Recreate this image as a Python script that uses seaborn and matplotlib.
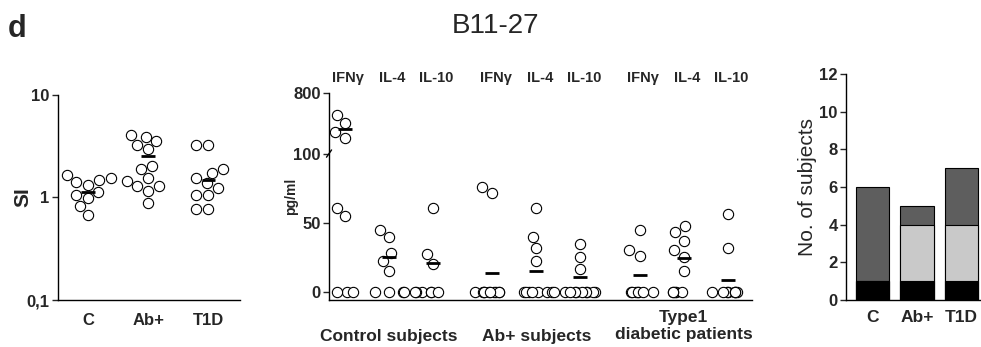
import numpy as np
import pandas as pd
import matplotlib
matplotlib.use("Agg")
import matplotlib.pyplot as plt
import seaborn as sns

sns.set_style("white")
plt.rcParams['font.family'] = ['Liberation Sans', 'DejaVu Sans']
np.random.seed(3)

# ---- panel 1: stimulation index ----
si_groups = ['C', 'Ab+', 'T1D']
si_c = [1.55, 1.66, 1.49, 1.33, 1.42, 1.14, 1.06, 0.99, 0.82, 0.68]
si_ab = [3.88, 4.09, 3.55, 3.26, 2.96, 2.04, 1.88, 1.54, 1.45, 1.28, 1.30, 1.16, 0.88]
si_t1d = [3.26, 3.26, 1.89, 1.75, 1.54, 1.38, 1.23, 1.06, 1.06, 0.78, 0.78]
si_lines = [1.14, 2.51, 1.49]

# ---- panel 2: cytokines (pg/ml) ----
cytokines = ['IFN\u03b3', 'IL-4', 'IL-10']
cohorts = ['Control subjects', 'Ab+ subjects', 'Type1\ndiabetic patients']
ctrl_ifn = [547, 452, 356, 280, 61, 55, 0, 0, 0]
ctrl_il4 = [45, 39.6, 28, 22, 14.7, 0, 0, 0, 0]
ctrl_il10 = [60.7, 27, 20, 0, 0, 0, 0, 0, 0]
ab_ifn = [76, 71.5, 0, 0, 0, 0, 0, 0, 0, 0, 0, 0]
ab_il4 = [60.5, 40, 32, 22, 0, 0, 0, 0, 0, 0, 0, 0]
ab_il10 = [34.5, 25, 16.6, 0, 0, 0, 0, 0, 0, 0, 0, 0]
t1d_ifn = [45, 30, 26, 0, 0, 0, 0, 0, 0, 0]
t1d_il4 = [48, 43, 37, 30, 25, 14.7, 0, 0, 0, 0, 0]
t1d_il10 = [56, 31.6, 0, 0, 0, 0, 0, 0, 0, 0]
cyt_lines = [383, 25, 21, 13.5, 15, 10.6, 12.3, 24.4, 8.7]

# ---- panel 3: number of subjects ----
bar_groups = ['C', 'Ab+', 'T1D']
n_black = [1, 1, 1]
n_light = [0, 3, 3]
n_dark = [5, 1, 3]

fig = plt.figure(figsize=(9.81, 3.47), dpi=100)
bold = dict(fontweight='bold')

# panel 1
ax1 = fig.add_axes([0.0591, 0.1354, 0.1855, 0.591])
ax1.set_yscale('log')
si_df = pd.DataFrame({
    'group': np.repeat(si_groups, [len(si_c), len(si_ab), len(si_t1d)]),
    'SI': si_c + si_ab + si_t1d})
sns.swarmplot(data=si_df, x='group', y='SI', order=si_groups, ax=ax1, size=7.4,
              color='white', edgecolor='black', linewidth=0.8)
ax1.hlines(si_lines, np.arange(3) - 0.11, np.arange(3) + 0.11, color='black', lw=2, zorder=5)
ax1.set_ylim(0.1, 10)
ax1.set_xlim(-0.5, 2.53)
ax1.set_yticks([0.1, 1, 10])
ax1.set_yticklabels(['0,1', '1', '10'])
ax1.yaxis.set_minor_locator(matplotlib.ticker.NullLocator())
ax1.set_xlabel('')
ax1.set_ylabel('SI', fontsize=15, **bold)
ax1.yaxis.set_label_coords(-0.143, 0.5)
ax1.tick_params(axis='y', left=True, length=4, width=1, labelsize=12, pad=2)
ax1.tick_params(axis='x', bottom=False, labelsize=12, pad=6)
for t in ax1.get_xticklabels() + ax1.get_yticklabels():
    t.set_fontweight('bold')
sns.despine(ax=ax1)

# panel 2, broken axis above 100
def fwd(y):
    y = np.asarray(y, dtype=float)
    return np.where(y <= 100, y, 100 + (y - 100) * 44 / 700)

def inv(y):
    y = np.asarray(y, dtype=float)
    return np.where(y <= 100, y, 100 + (y - 100) * 700 / 44)

ax2 = fig.add_axes([0.3354, 0.1354, 0.431, 0.5965])
ax2.set_yscale('function', functions=(fwd, inv))
ax2.set_ylim(-6, 800)
ax2.set_xlim(-0.36, 9.25)

series = [ctrl_ifn, ctrl_il4, ctrl_il10, ab_ifn, ab_il4, ab_il10, t1d_ifn, t1d_il4, t1d_il10]
pos = [c + g * 3.35 for g in range(3) for c in range(3)]
rows = []
for p, vals in zip(pos, series):
    for v in vals:
        rows.append((p, v))
cyt_df = pd.DataFrame(rows, columns=['pos', 'pg'])
pos_df = cyt_df[cyt_df.pg > 0]
zero_df = cyt_df[cyt_df.pg == 0]
sns.swarmplot(data=pos_df, x='pos', y='pg', native_scale=True, ax=ax2, size=7.4,
              color='white', edgecolor='black', linewidth=0.8)
sns.stripplot(data=zero_df, x='pos', y='pg', native_scale=True, ax=ax2, size=7.4,
              jitter=0.42, color='white', edgecolor='black', linewidth=0.8)
ax2.hlines(cyt_lines, np.array(pos) - 0.16, np.array(pos) + 0.16, color='black', lw=2, zorder=5)
ax2.set_xlim(-0.36, 9.25)
ax2.set_ylim(-6, 800)
ax2.set_yticks([0, 50, 100, 800])
ax2.set_xticks([])
ax2.set_xlabel('')
ax2.set_ylabel('pg/ml', fontsize=10, **bold)
ax2.yaxis.set_label_coords(-0.073, 0.5)
ax2.tick_params(axis='y', left=True, length=4, width=1, labelsize=12, pad=2)
for t in ax2.get_yticklabels():
    t.set_fontweight('bold')
sns.despine(ax=ax2)
# break mark on the y axis
ax2.plot([-0.006, 0.006], [0.69, 0.725], transform=ax2.transAxes, color='black', lw=1, clip_on=False)
for p, lab in zip(pos, cytokines * 3):
    ax2.text(p + 0.08, 1.072, lab, transform=ax2.get_xaxis_transform(), ha='center', va='center',
             fontsize=10.5, **bold)
for g, lab in enumerate(cohorts):
    ax2.text(1 + g * 3.35, -0.126 if '\n' in lab else -0.174, lab,
             transform=ax2.get_xaxis_transform(), ha='center', va='center',
             fontsize=12.5, **bold, linespacing=1.2)

# panel 3: stacked bars drawn from the top segment down
ax3 = fig.add_axes([0.8624, 0.1354, 0.1366, 0.651])
bar_df = pd.DataFrame({'group': bar_groups,
                       'black': n_black,
                       'light': np.add(n_black, n_light),
                       'dark': np.add(np.add(n_black, n_light), n_dark)})
for col, colour in [('dark', '#5e5e5e'), ('light', '#c9c9c9'), ('black', '#000000')]:
    sns.barplot(data=bar_df, x='group', y=col, order=bar_groups, ax=ax3, width=0.75,
                color=colour, saturation=1, edgecolor='black', linewidth=0.8)
ax3.set_ylim(0, 12)
ax3.set_xlim(-0.61, 2.43)
ax3.set_yticks(range(0, 13, 2))
ax3.set_xlabel('')
ax3.set_ylabel('No. of subjects', fontsize=15)
ax3.yaxis.set_label_coords(-0.216, 0.5)
ax3.tick_params(axis='y', left=True, length=4, width=1, labelsize=12, pad=2)
ax3.tick_params(axis='x', bottom=False, labelsize=12.5, pad=4)
for t in ax3.get_xticklabels() + ax3.get_yticklabels():
    t.set_fontweight('bold')
sns.despine(ax=ax3)

for ax in (ax1, ax2, ax3):
    for s in ('left', 'bottom'):
        ax.spines[s].set_color('black')
        ax.spines[s].set_linewidth(1)

fig.text(0.5056, 0.905, 'B11-27', ha='center', va='baseline', fontsize=20)
fig.text(0.008, 0.893, 'd', ha='left', va='baseline', fontsize=22, fontweight='bold')

fig.savefig('out.png', dpi=100)
